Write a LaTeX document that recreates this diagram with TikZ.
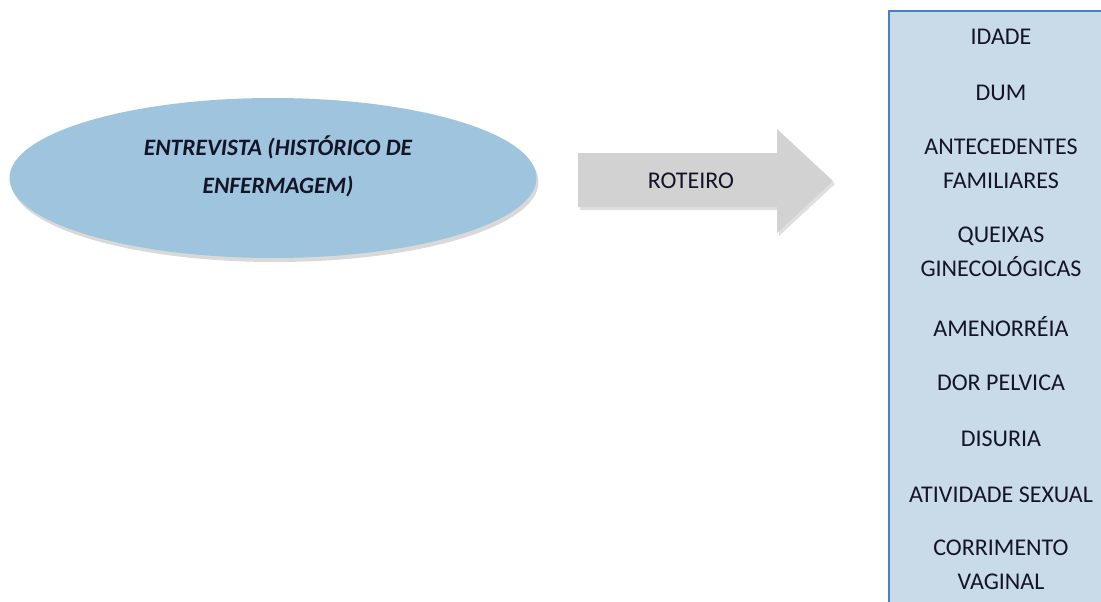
\documentclass[tikz,border=0pt]{standalone}
\usepackage{fontspec}
\setmainfont{Carlito}
\usetikzlibrary{shapes.geometric,shadows}
\definecolor{ellfill}{RGB}{159,196,221}
\definecolor{boxfill}{RGB}{201,218,233}
\definecolor{boxline}{RGB}{70,130,195}
\definecolor{arrfill}{RGB}{210,210,210}
\definecolor{txt}{RGB}{20,20,40}
\tikzset{
  listitem/.style={text=txt, font=\fontsize{24}{34}\selectfont, align=center, inner sep=0pt},
  mainlabel/.style={text=txt, font=\fontsize{23.5}{38}\selectfont\bfseries\itshape, align=center, inner sep=0pt},
  oval/.style={ellipse, fill=ellfill, minimum width=527pt, minimum height=160pt, inner sep=0pt,
     drop shadow={shadow xshift=2pt, shadow yshift=-4pt, opacity=0.3, fill=gray}},
}
\begin{document}
\begin{tikzpicture}[x=1pt,y=-1pt]
\useasboundingbox (0,0) rectangle (1101,602);
\begin{scope}
\clip (0,0) rectangle (1101,602);
% ellipse
\node[oval] (ent) at (273,178) {};
\node[mainlabel] (entlabel) at (278,166) {ENTREVISTA (HISTÓRICO DE\\ENFERMAGEM)};
% block arrow
\fill[gray, opacity=0.25] (580,156) -- (779,156) -- (779,132) -- (835,184) -- (779,236) -- (779,210) -- (580,210) -- cycle;
\fill[arrfill] (578,153) -- (777,153) -- (777,129) -- (833,181) -- (777,233) -- (777,207) -- (578,207) -- cycle;
\node[listitem] (rot) at (691,181) {ROTEIRO};
% list box
\filldraw[fill=boxfill, draw=boxline, line width=1.2pt] (889,11) rectangle (1115,620);
\node[listitem] (i1) at (1001,37) {IDADE};
\node[listitem] (i2) at (1001,93) {DUM};
\node[listitem] (i3) at (1001,164) {ANTECEDENTES\\FAMILIARES};
\node[listitem] (i4) at (1001,252) {QUEIXAS\\GINECOLÓGICAS};
\node[listitem] (i5) at (1001,327) {AMENORRÉIA};
\node[listitem] (i6) at (1001,383) {DOR PELVICA};
\node[listitem] (i7) at (1001,439) {DISURIA};
\node[listitem] (i8) at (1001,495) {ATIVIDADE SEXUAL};
\node[listitem] (i9) at (1001,565) {CORRIMENTO\\VAGINAL};
\end{scope}
\end{tikzpicture}
\end{document}
